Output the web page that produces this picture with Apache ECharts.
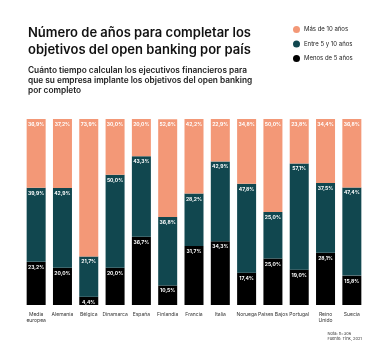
<!DOCTYPE html>
<html><head><meta charset="utf-8">
<script src="https://cdn.jsdelivr.net/npm/echarts@6/dist/echarts.min.js"></script>
<style>html,body{margin:0;padding:0;background:#fff}#c{width:390px;height:357px}</style>
</head><body><div id="c"></div>
<script>
const categories = ["Media\neuropea","Alemania","Bélgica","Dinamarca","España","Finlandia","Francia","Italia","Noruega","Países Bajos","Portugal","Reino\nUnido","Suecia"];
const masDe10 = [36.9,37.2,73.9,30.0,20.0,52.6,42.2,22.9,34.8,50.0,23.8,34.4,36.8];
const entre5y10 = [39.9,42.9,21.7,50.0,43.3,36.8,28.2,42.9,47.8,25.0,57.1,37.5,47.4];
const menosDe5 = [23.2,20.0,4.4,20.0,36.7,10.5,31.7,34.3,17.4,25.0,19.0,28.1,15.8];
const seriesNames = ["Menos de 5 años","Entre 5 y 10 años","Más de 10 años"];
const colors = ["#000000","#11474F","#F39877"];
const FONT = "Inter";
const chart = echarts.init(document.getElementById('c'), null, {renderer:'canvas'});
const fmt = p => p.value.toFixed(1).replace('.', ',') + '%';
const mk = (name, data, color) => ({
  name, type:'bar', stack:'total', data, barWidth:19,
  itemStyle:{color},
  label:{show:true, position:'insideTop', distance:3, formatter:fmt, color:'#fff', fontSize:5, fontWeight:'bold', fontFamily:FONT},
  clip:true
});
chart.setOption({
  animation:false,
  backgroundColor:'#fff',
  title:[
    {text:'Número de años para completar los\nobjetivos del open banking por país', left:23, top:20, padding:5,
     textStyle:{fontSize:13, fontWeight:600, fontFamily:FONT, color:'#111', lineHeight:17}},
    {text:'Cuánto tiempo calculan los ejecutivos financieros para\nque su empresa implante los objetivos del open banking\npor completo', left:23, top:61, padding:5,
     textStyle:{fontSize:8.3, fontWeight:600, fontFamily:FONT, color:'#222', lineHeight:9.7}},
    {text:'Nota: n=306\nFuente: Tink, 2021', right:23, top:326, padding:5,
     textStyle:{fontSize:4, fontWeight:'normal', fontFamily:FONT, color:'#333', lineHeight:5, align:'right'}}
  ],
  legend:{data:[seriesNames[2],seriesNames[1],seriesNames[0]], orient:'vertical', left:288, top:21,
    icon:'circle', itemWidth:7, itemHeight:7, itemGap:7.5,
    textStyle:{fontSize:6, fontFamily:FONT, color:'#222', padding:[0,0,0,-1]}},
  grid:{left:23, right:25, top:119, bottom:52, containLabel:false},
  xAxis:{type:'category', data:categories, axisLine:{show:false}, axisTick:{show:false},
    axisLabel:{fontSize:5, fontFamily:FONT, color:'#333', margin:6, lineHeight:6, interval:0}},
  yAxis:{type:'value', min:0, max:100, show:false},
  series:[mk(seriesNames[0], menosDe5, colors[0]), mk(seriesNames[1], entre5y10, colors[1]), mk(seriesNames[2], masDe10, colors[2])]
});
</script></body></html>
